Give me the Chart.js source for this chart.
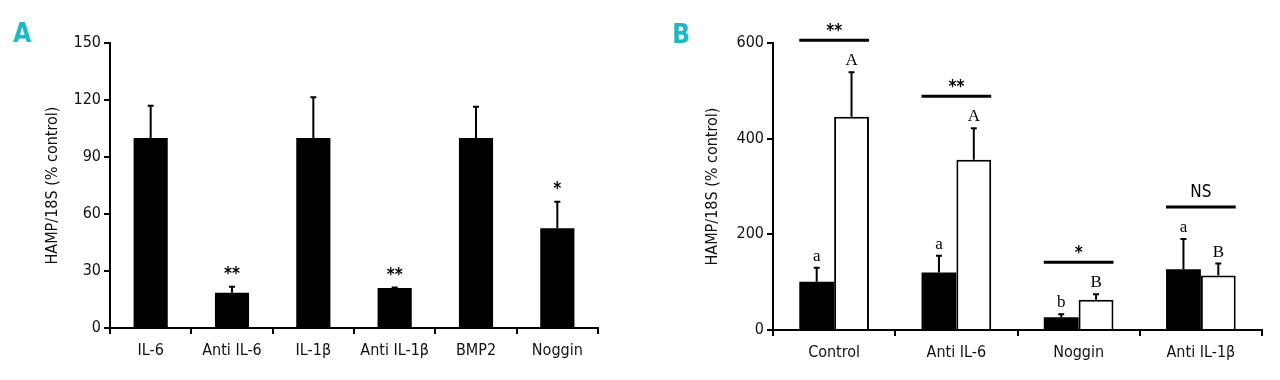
<!DOCTYPE html>
<html>
<head>
<meta charset="utf-8">
<script src="https://cdn.jsdelivr.net/npm/chart.js@4"></script>
<style>
  body { margin: 0; background: #fff; width: 1280px; height: 380px; position: relative; overflow: hidden; }
  .box { position: absolute; top: 0; height: 380px; }
  #boxA { left: 0; width: 620px; }
  #boxB { left: 620px; width: 660px; }
  .tag { position: absolute; font: bold 26px 'Liberation Sans Narrow', 'DejaVu Sans Condensed', sans-serif; color: #1cb8c4; }
</style>
</head>
<body>
<div class="tag" style="left:13px;top:18px">A</div>
<div class="tag" style="left:672px;top:19px">B</div>
<div class="box" id="boxA"><canvas id="chartA" width="620" height="380"></canvas></div>
<div class="box" id="boxB"><canvas id="chartB" width="660" height="380"></canvas></div>
<script>
// panel A
const catsA = ['IL-6', 'Anti IL-6', 'IL-1\u03b2', 'Anti IL-1\u03b2', 'BMP2', 'Noggin']
const valsA = [100, 18.5, 100, 21, 100, 52.5]
const errA = [117, 21.7, 121.5, 21.3, 116.5, 66.5]
const starsA = ['', '**', '', '**', '', '*']
const ticksA = [0, 30, 60, 90, 120, 150]

// panel B
const catsB = ['Control', 'Anti IL-6', 'Noggin', 'Anti IL-1\u03b2']
const blackB = [101, 120, 26.5, 127]
const whiteB = [446, 356, 63, 114]
const errBlackB = [130, 155, 33, 190]
const errWhiteB = [539, 422, 75, 139]
const lettersBlackB = ['a', 'a', 'b', 'a']
const lettersWhiteB = ['A', 'A', 'B', 'B']
const sigB = ['**', '**', '*', 'NS']
const ticksB = [0, 200, 400, 600]

const FONT = "'Liberation Sans Narrow', 'DejaVu Sans Condensed', sans-serif"

const marks = {
    id: 'marks',
    afterDatasetsDraw(chart, args, o) {
        const ctx = chart.ctx
        const y = chart.scales.y
        ctx.save()
        ctx.strokeStyle = '#000'
        ctx.fillStyle = '#000'
        ctx.textAlign = 'center'
        const tops = []
        o.errors.forEach((errs, d) => {
            chart.getDatasetMeta(d).data.forEach((bar, i) => {
                const yt = y.getPixelForValue(errs[i])
                ctx.lineWidth = 2
                ctx.beginPath()
                ctx.moveTo(bar.x, bar.y)
                ctx.lineTo(bar.x, yt)
                ctx.moveTo(bar.x - 3, yt)
                ctx.lineTo(bar.x + 3, yt)
                ctx.stroke()
                tops[i] = Math.min(tops[i] ?? Infinity, yt)
                const t = o.letters ? o.letters[d][i] : ''
                if (t) {
                    ctx.font = "17px 'Liberation Serif', serif"
                    ctx.textBaseline = 'alphabetic'
                    ctx.fillText(t, bar.x, yt - 7)
                }
                const s = o.stars ? o.stars[i] : ''
                if (s) {
                    ctx.font = 'bold 17px ' + FONT
                    ctx.textBaseline = 'alphabetic'
                    ctx.fillText(s, bar.x, yt - 8)
                }
            })
        })
        if (o.sig) {
            const m0 = chart.getDatasetMeta(0).data
            const m1 = chart.getDatasetMeta(1).data
            o.sig.forEach((s, i) => {
                const x0 = m0[i].x - m0[i].width / 2
                const x1 = m1[i].x + m1[i].width / 2
                const ly = tops[i] - 32
                ctx.lineWidth = 3
                ctx.beginPath()
                ctx.moveTo(x0, ly)
                ctx.lineTo(x1, ly)
                ctx.stroke()
                ctx.textBaseline = 'alphabetic'
                if (s === 'NS') {
                    ctx.font = '17px ' + FONT
                    ctx.fillText(s, (x0 + x1) / 2, ly - 10)
                } else {
                    ctx.font = 'bold 17px ' + FONT
                    ctx.fillText(s, (x0 + x1) / 2, ly - 4)
                }
            })
        }
        ctx.restore()
    }
}

const axisX = (h, hideLast) => ({
    offset: true,
    grid: {
        offset: true, drawOnChartArea: false, drawTicks: true, tickLength: 6, lineWidth: 2,
        color: c => (hideLast && c.index === hideLast) ? 'rgba(0,0,0,0)' : '#000',
    },
    border: { color: '#000', width: 2 },
    ticks: { color: '#111', padding: 7, font: { family: FONT, size: 16 } },
    afterFit: s => { s.height = h },
})

const axisY = (max, ticks, w, titlePad) => ({
    min: 0, max: max,
    afterBuildTicks: s => { s.ticks = ticks.map(v => ({ value: v })) },
    grid: { drawOnChartArea: false, drawTicks: true, tickLength: 6, lineWidth: 2, color: '#000' },
    border: { color: '#000', width: 2 },
    ticks: { color: '#111', padding: 3, font: { family: FONT, size: 16 } },
    title: { display: true, text: 'HAMP/18S (% control)', color: '#111', font: { family: FONT, size: 16 }, padding: { top: titlePad, bottom: 0 } },
    afterFit: s => { s.width = w },
})

new Chart(document.getElementById('chartA'), {
    type: 'bar',
    data: {
        labels: catsA,
        datasets: [{
            data: valsA, backgroundColor: '#000', borderColor: '#000', borderWidth: 0,
            categoryPercentage: 0.42, barPercentage: 1,
        }],
    },
    options: {
        responsive: false, animation: false,
        layout: { padding: { top: 43, right: 22, left: 0, bottom: 0 } },
        plugins: { legend: { display: false }, tooltip: { enabled: false }, marks: { errors: [errA], stars: starsA } },
        scales: { x: axisX(52), y: axisY(150, ticksA, 110, 43) },
    },
    plugins: [marks],
})

new Chart(document.getElementById('chartB'), {
    type: 'bar',
    data: {
        labels: catsB,
        datasets: [
            { data: blackB, backgroundColor: '#000', borderColor: '#000', borderWidth: 0, categoryPercentage: 0.57, barPercentage: 1 },
            { data: whiteB, backgroundColor: '#fff', borderColor: '#000', borderWidth: 2, categoryPercentage: 0.57, barPercentage: 1 },
        ],
    },
    options: {
        responsive: false, animation: false,
        layout: { padding: { top: 43, right: 18, left: 0, bottom: 0 } },
        plugins: {
            legend: { display: false }, tooltip: { enabled: false },
            marks: { errors: [errBlackB, errWhiteB], letters: [lettersBlackB, lettersWhiteB], sig: sigB },
        },
        scales: { x: axisX(50, 4), y: axisY(600, ticksB, 153, 83) },
    },
    plugins: [marks],
})
</script>
</body>
</html>
